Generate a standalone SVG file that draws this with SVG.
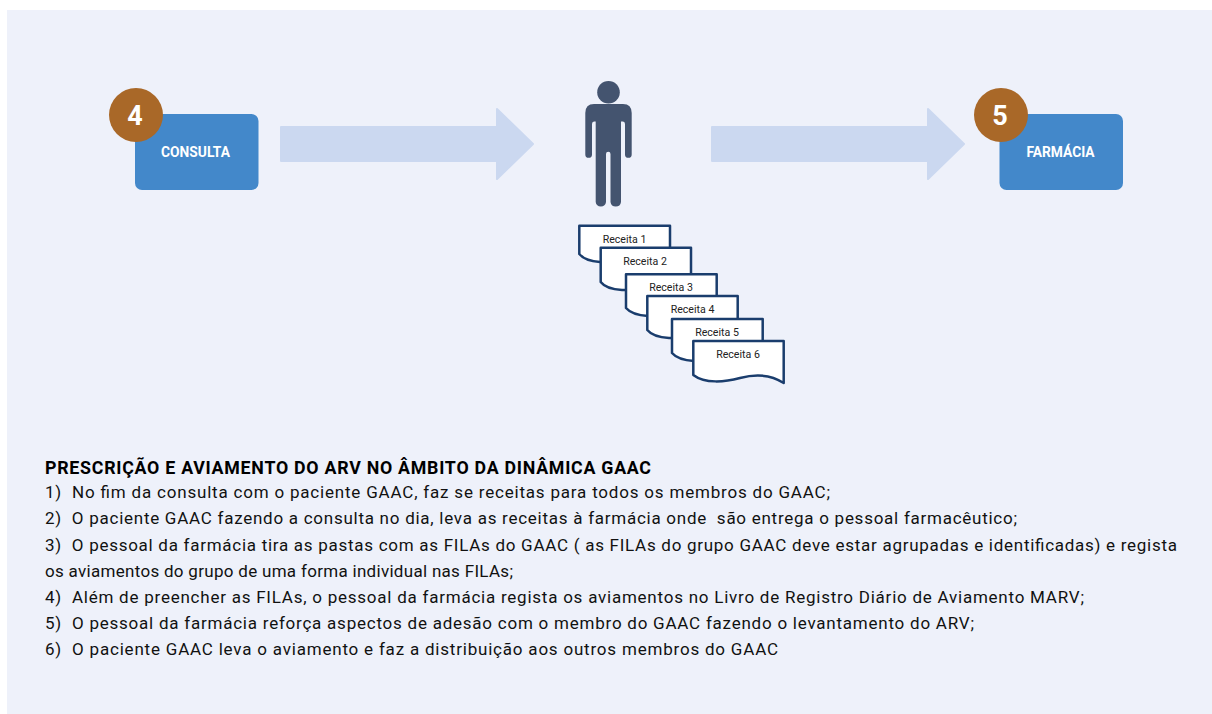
<svg xmlns="http://www.w3.org/2000/svg" width="1212" height="714" viewBox="0 0 1212 714">
<style>
text{font-family:Roboto,"Liberation Sans",sans-serif}
.box{fill:#4388ca}
.badge{fill:#a96828}
.num{font-size:27px;font-weight:700;fill:#fff;text-anchor:middle}
.lbl{font-size:13.800px;font-weight:700;fill:#fff;text-anchor:middle}
.arrow{fill:#cbd8f0;stroke:#cbd8f0;stroke-width:2;stroke-linejoin:round}
.doc{fill:#fff;stroke:#1a3d6d;stroke-width:2.500;stroke-linejoin:round}
.dl{font-size:10.600px;fill:#222;text-anchor:middle}
.b{font-size:17px;fill:#111;white-space:pre}
.h{font-size:17.800px;font-weight:700;fill:#000}
</style>
<rect x="7" y="10" width="1205" height="704" fill="#eef1fa"/>
<g id="connectors">
<path class="arrow" d="M281,127H497V109L533,144L497,179V161H281Z"/>
<path class="arrow" d="M712,127H928V109L964,144L928,179V161H712Z"/>
</g>
<g id="node-consulta">
<rect class="box" x="135" y="114" width="123.500" height="76" rx="7"/>
<text class="lbl" x="195.500" y="157">CONSULTA</text>
<circle class="badge" cx="136" cy="115" r="27"/>
<text class="num" x="135" y="124.500">4</text>
</g>
<g id="node-farmacia">
<rect class="box" x="999.500" y="114" width="123.500" height="76" rx="7"/>
<text class="lbl" x="1060.500" y="157">FARMÁCIA</text>
<circle class="badge" cx="1001" cy="115" r="27"/>
<text class="num" x="1000" y="124.500">5</text>
</g>
<g id="node-person" fill="#44546f">
<circle cx="608.500" cy="92.300" r="11.300"/>
<path d="M594,104H623Q631.700,104 631.700,113V154.500A3.300,3.300 0 0 1 625,154.500V124Q625,121.500 623,121.500H621V202A5.300,5.300 0 0 1 610.500,202V154Q610.500,151.700 608.300,151.700Q606,151.700 606,154V202A5.200,5.200 0 0 1 595.700,202V121.500H594Q592,121.500 592,124V154.500A3.300,3.300 0 0 1 585.300,154.500V113Q585.300,104 594,104Z"/>
</g>
<g id="node-receita-1">
<path class="doc" d="M579.300,225.700H670V262H600Q585,261 579.300,254Z"/>
<text class="dl" x="624.500" y="243">Receita 1</text>
</g>
<g id="node-receita-2">
<path class="doc" d="M600.700,247.700H691V290H622Q606,289 600.700,282Z"/>
<text class="dl" x="645" y="265">Receita 2</text>
</g>
<g id="node-receita-3">
<path class="doc" d="M626,274.300H716.700V316H648Q632,315 626,308Z"/>
<text class="dl" x="671" y="291">Receita 3</text>
</g>
<g id="node-receita-4">
<path class="doc" d="M647.300,296H737.700V338H669Q653,337 647.300,330Z"/>
<text class="dl" x="692.500" y="313">Receita 4</text>
</g>
<g id="node-receita-5">
<path class="doc" d="M672,319H762.700V361H694Q678,360 672,353Z"/>
<text class="dl" x="717" y="336">Receita 5</text>
</g>
<g id="node-receita-6">
<path class="doc" d="M693.300,341H783.700V383C770,374 755,374 740,378C725,382 705,384 693.300,375Z"/>
<text class="dl" x="738" y="358">Receita 6</text>
</g>
<g id="texto">
<text class="h" x="45" y="474" textLength="606" lengthAdjust="spacing">PRESCRIÇÃO E AVIAMENTO DO ARV NO ÂMBITO DA DINÂMICA GAAC</text>
<text class="b" x="45" y="498" textLength="785" lengthAdjust="spacing">1)  No fim da consulta com o paciente GAAC, faz se receitas para todos os membros do GAAC;</text>
<text class="b" x="45" y="524" textLength="972" lengthAdjust="spacing">2)  O paciente GAAC fazendo a consulta no dia, leva as receitas à farmácia onde  são entrega o pessoal farmacêutico;</text>
<text class="b" x="45" y="551" textLength="1132" lengthAdjust="spacing">3)  O pessoal da farmácia tira as pastas com as FILAs do GAAC ( as FILAs do grupo GAAC deve estar agrupadas e identificadas) e regista</text>
<text class="b" x="45" y="577" textLength="468" lengthAdjust="spacing">os aviamentos do grupo de uma forma individual nas FILAs;</text>
<text class="b" x="45" y="603" textLength="1039" lengthAdjust="spacing">4)  Além de preencher as FILAs, o pessoal da farmácia regista os aviamentos no Livro de Registro Diário de Aviamento MARV;</text>
<text class="b" x="45" y="629" textLength="929" lengthAdjust="spacing">5)  O pessoal da farmácia reforça aspectos de adesão com o membro do GAAC fazendo o levantamento do ARV;</text>
<text class="b" x="45" y="655" textLength="733" lengthAdjust="spacing">6)  O paciente GAAC leva o aviamento e faz a distribuição aos outros membros do GAAC</text>
</g>
</svg>
